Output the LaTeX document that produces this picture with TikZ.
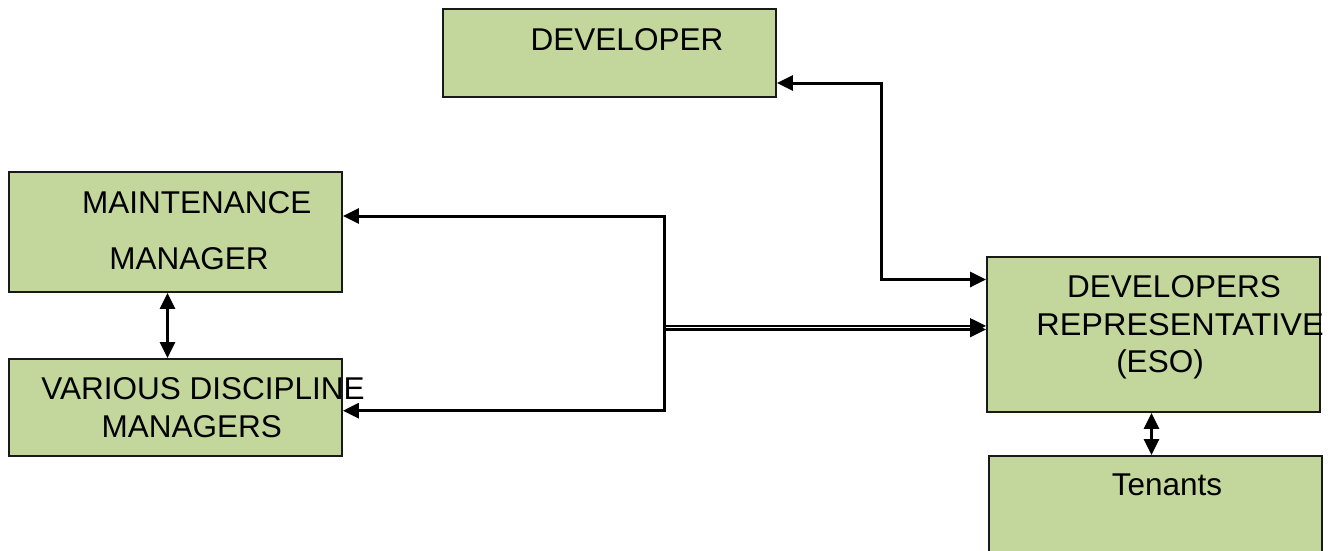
\documentclass[tikz,border=0pt]{standalone}
\usepackage{fontspec}
\setmainfont{Liberation Sans}
\usetikzlibrary{arrows.meta}
\definecolor{boxfill}{RGB}{195,214,155}
\tikzset{
  box/.style={draw=black!90, line width=1.8pt, fill=boxfill, inner sep=0pt},
  lbl/.style={anchor=base, inner sep=0pt, font=\fontsize{31.5}{36}\selectfont},
  link/.style={line width=3pt, black, {Triangle[length=16pt,width=15pt]}-{Triangle[length=16pt,width=15pt]}},
  feed/.style={line width=2.4pt, black, -{Triangle[length=16pt,width=15pt]}}
}
\begin{document}
\begin{tikzpicture}[x=1pt,y=-1pt]
\useasboundingbox (0,0) rectangle (1334,550);

% boxes
\node[box, minimum width=333pt, minimum height=88pt]  (dev) at (609.5,53) {};
\node[box, minimum width=333pt, minimum height=120pt] (mm)  at (175.5,232) {};
\node[box, minimum width=333pt, minimum height=97pt]  (vdm) at (175.5,407.5) {};
\node[box, minimum width=333pt, minimum height=155pt] (eso) at (1153.5,334.5) {};
\begin{scope}
  \clip (0,0) rectangle (1334,550);
  \node[box, anchor=north, minimum width=333pt, minimum height=120pt] (ten) at (1155.5,455) {};
\end{scope}

% labels
\node[lbl] (tdev) at (627,50)    {DEVELOPER};
\node[lbl] (tmm1) at (196.7,213.5) {MAINTENANCE};
\node[lbl] (tmm2) at (189,269.5) {MANAGER};
\node[lbl] (tvd1) at (203,399.3) {VARIOUS DISCIPLINE};
\node[lbl] (tvd2) at (191.7,437.3) {MANAGERS};
\node[lbl] (tes1) at (1174,297) {DEVELOPERS};
\node[lbl, xscale=1.03] (tes2) at (1180,335) {REPRESENTATIVE};
\node[lbl] (tes3) at (1160,372) {(ESO)};
\node[lbl] (tten) at (1167,495) {Tenants};

% junction columns
\coordinate (jdev)  at (881,0);
\coordinate (trunk) at (664,0);

% anchor points on the box sides
\coordinate (devR) at ([yshift=-30pt]dev.east);
\coordinate (esoA) at ([yshift=55pt]eso.west);
\coordinate (esoB) at ([yshift=8.6pt]eso.west);
\coordinate (esoC) at ([yshift=5pt]eso.west);
\coordinate (mmR)  at ([yshift=16pt]mm.east);
\coordinate (vdmR) at ([yshift=-3.2pt]vdm.east);

% developer <-> representative
\draw[link] (devR) -| (jdev |- esoA) -- (esoA);

% representative -> managers
\draw[link] (mmR) -| (trunk |- vdmR) -- (vdmR);
\draw[feed] (trunk |- esoB) -- (esoB);
\draw[feed] (trunk |- esoC) -- (esoC);

% vertical links
\draw[link] ([xshift=-8pt]mm.south) -- ([xshift=-8pt]mm.south |- vdm.north);
\draw[link] ([xshift=-2pt]eso.south) -- ([xshift=-2pt]eso.south |- ten.north);
\end{tikzpicture}
\end{document}
